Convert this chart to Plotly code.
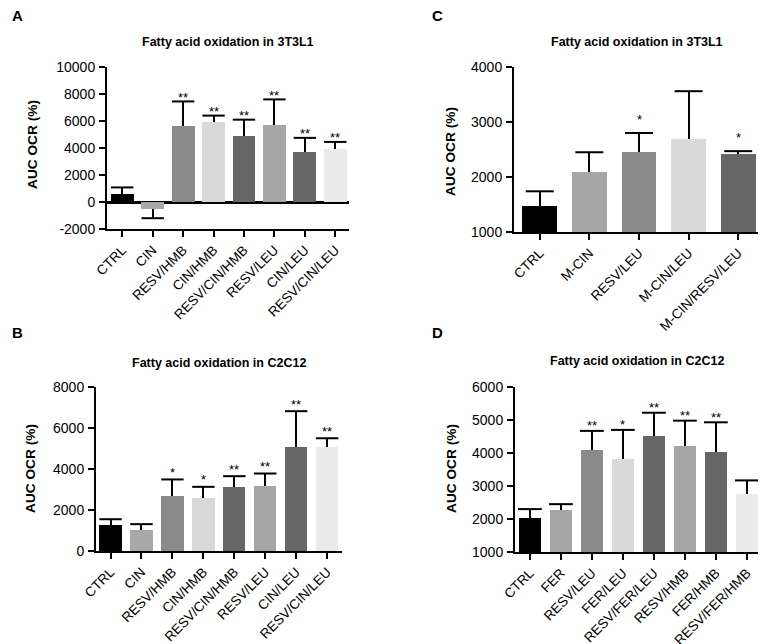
import plotly.graph_objects as go

# ---------------- data ----------------
a_cats = ["CTRL", "CIN", "RESV/HMB", "CIN/HMB", "RESV/CIN/HMB", "RESV/LEU", "CIN/LEU", "RESV/CIN/LEU"]
a_vals = [600, -500, 5650, 5900, 4900, 5700, 3700, 3900]
a_err = [480, 700, 1800, 500, 1200, 1900, 1050, 550]
a_sig = ["", "", "**", "**", "**", "**", "**", "**"]
a_ticks = [-2000, 0, 2000, 4000, 6000, 8000, 10000]

b_cats = ["CTRL", "CIN", "RESV/HMB", "CIN/HMB", "RESV/CIN/HMB", "RESV/LEU", "CIN/LEU", "RESV/CIN/LEU"]
b_vals = [1270, 1020, 2690, 2570, 3100, 3180, 5080, 5080]
b_err = [280, 290, 800, 560, 550, 600, 1740, 420]
b_sig = ["", "", "*", "*", "**", "**", "**", "**"]
b_ticks = [0, 2000, 4000, 6000, 8000]

c_cats = ["CTRL", "M-CIN", "RESV/LEU", "M-CIN/LEU", "M-CIN/RESV/LEU"]
c_vals = [1480, 2100, 2460, 2700, 2420]
c_err = [260, 350, 340, 860, 50]
c_sig = ["", "", "*", "", "*"]
c_ticks = [1000, 2000, 3000, 4000]

d_cats = ["CTRL", "FER", "RESV/LEU", "FER/LEU", "RESV/FER/LEU", "RESV/HMB", "FER/HMB", "RESV/FER/HMB"]
d_vals = [2020, 2260, 4090, 3830, 4520, 4220, 4040, 2770]
d_err = [280, 190, 580, 870, 700, 760, 890, 400]
d_sig = ["", "", "**", "*", "**", "**", "**", ""]
d_ticks = [1000, 2000, 3000, 4000, 5000, 6000]

a_colors = ["#000000", "#a8a8a8", "#8a8a8a", "#d9d9d9", "#666666", "#a6a6a6", "#666666", "#ebebeb"]
b_colors = ["#000000", "#a8a8a8", "#8a8a8a", "#d9d9d9", "#666666", "#a6a6a6", "#666666", "#ebebeb"]
c_colors = ["#000000", "#a6a6a6", "#8a8a8a", "#d9d9d9", "#666666"]
d_colors = ["#000000", "#a6a6a6", "#8a8a8a", "#d9d9d9", "#666666", "#a6a6a6", "#666666", "#ebebeb"]

title_3t3 = "Fatty acid oxidation in 3T3L1"
title_c2c = "Fatty acid oxidation in C2C12"
ylab = "AUC OCR (%)"

OFF = 8  # page body margin
W, H = 766 - OFF, 644 - OFF
FONT = "Liberation Sans, Arial, sans-serif"


def px(x):
    return (x - OFF) / W


def py(y):
    return 1 - (y - OFF) / H


panels = [
    dict(letter="A", cats=a_cats, vals=a_vals, err=a_err, sig=a_sig, colors=a_colors, title=title_3t3,
         ticks=a_ticks, xpx=(107, 349), ypx=(67, 229), xr=[-0.5, 7.45], bw=0.75, cap=16, star=7,
         letter_pos=(10, 16), title_pos=(228, 42), ylab_pos=(32, 145)),
    dict(letter="C", cats=c_cats, vals=c_vals, err=c_err, sig=c_sig, colors=c_colors, title=title_3t3,
         ticks=c_ticks, xpx=(514, 763), ypx=(67, 232), xr=[-0.52, 4.5], bw=0.7, cap=20, star=17,
         letter_pos=(430, 16), title_pos=(637, 42), ylab_pos=(451, 152)),
    dict(letter="B", cats=b_cats, vals=b_vals, err=b_err, sig=b_sig, colors=b_colors, title=title_c2c,
         ticks=b_ticks, xpx=(96, 342), ypx=(387, 551), xr=[-0.47, 7.48], bw=0.72, cap=16, star=10,
         letter_pos=(10, 332), title_pos=(219, 363), ylab_pos=(30, 469)),
    dict(letter="D", cats=d_cats, vals=d_vals, err=d_err, sig=d_sig, colors=d_colors, title=title_c2c,
         ticks=d_ticks, xpx=(515, 763), ypx=(387, 552), xr=[-0.48, 7.52], bw=0.72, cap=17, star=8,
         letter_pos=(430, 332), title_pos=(637, 361), ylab_pos=(451, 469)),
]

fig = go.Figure()
annotations = []

for i, p in enumerate(panels):
    n = "" if i == 0 else str(i + 1)
    xa, ya = "x" + n, "y" + n
    xs = list(range(len(p["cats"])))
    plus = [e if v >= 0 else 0 for v, e in zip(p["vals"], p["err"])]
    minus = [0 if v >= 0 else e for v, e in zip(p["vals"], p["err"])]
    fig.add_trace(go.Bar(
        x=xs, y=p["vals"], width=p["bw"], marker=dict(color=p["colors"], line=dict(width=0)),
        error_y=dict(type="data", symmetric=False, array=plus, arrayminus=minus,
                     color="black", thickness=2, width=0),
        xaxis=xa, yaxis=ya, showlegend=False))
    tips = [v + e if v >= 0 else v - e for v, e in zip(p["vals"], p["err"])]
    fig.add_trace(go.Scatter(
        x=xs, y=tips, mode="markers",
        marker=dict(symbol="line-ew-open", size=p["cap"], color="black",
                    line=dict(color="black", width=2)),
        xaxis=xa, yaxis=ya, showlegend=False, cliponaxis=False))
    for xv, tv, s in zip(xs, tips, p["sig"]):
        if s:
            annotations.append(dict(text=s, x=xv, y=tv, xref=xa, yref=ya, showarrow=False,
                                    xanchor="center", yanchor="middle", yshift=p["star"] - 3,
                                    font=dict(family=FONT, size=13, color="black")))

    dom_x = [px(p["xpx"][0]), px(p["xpx"][1])]
    dom_y = [py(p["ypx"][1]), py(p["ypx"][0])]
    fig.layout["xaxis" + n] = dict(
        domain=dom_x, range=p["xr"], tickmode="array", tickvals=xs, ticktext=p["cats"],
        tickangle=-45, ticks="outside", ticklen=6, tickwidth=2, tickcolor="black",
        showline=True, linecolor="black", linewidth=2, showgrid=False, zeroline=False,
        automargin=False, tickfont=dict(family=FONT, size=13.5, color="black"), anchor=ya)
    fig.layout["yaxis" + n] = dict(
        domain=dom_y, range=[p["ticks"][0], p["ticks"][-1]], tickmode="array",
        tickvals=p["ticks"], ticktext=[str(t) for t in p["ticks"]], ticks="outside", ticklen=6,
        tickwidth=2, tickcolor="black", showline=True, linecolor="black", linewidth=2,
        showgrid=False, zeroline=p["ticks"][0] < 0, zerolinecolor="black", zerolinewidth=2.5,
        automargin=False, tickfont=dict(family=FONT, size=14, color="black"), anchor=xa,
        ticklabelstandoff=1)

    annotations.append(dict(text="<b>" + p["letter"] + "</b>", x=px(p["letter_pos"][0]),
                            y=py(p["letter_pos"][1]), xref="paper", yref="paper",
                            xanchor="left", yanchor="middle", showarrow=False,
                            font=dict(family=FONT, size=15, color="black")))
    annotations.append(dict(text="<b>" + p["title"] + "</b>", x=px(p["title_pos"][0]),
                            y=py(p["title_pos"][1]), xref="paper", yref="paper",
                            xanchor="center", yanchor="middle", showarrow=False,
                            font=dict(family=FONT, size=12.5, color="black")))
    annotations.append(dict(text="<b>" + ylab + "</b>", x=px(p["ylab_pos"][0]),
                            y=py(p["ylab_pos"][1]), xref="paper", yref="paper",
                            xanchor="center", yanchor="middle", textangle=-90, showarrow=False,
                            font=dict(family=FONT, size=13.7, color="black")))

fig.update_layout(template="none", width=W, height=H,
                  margin=dict(l=0, r=0, t=0, b=0, autoexpand=False),
                  paper_bgcolor="white", plot_bgcolor="white", annotations=annotations,
                  bargap=0, font=dict(family=FONT))
fig.write_html("out.html")
